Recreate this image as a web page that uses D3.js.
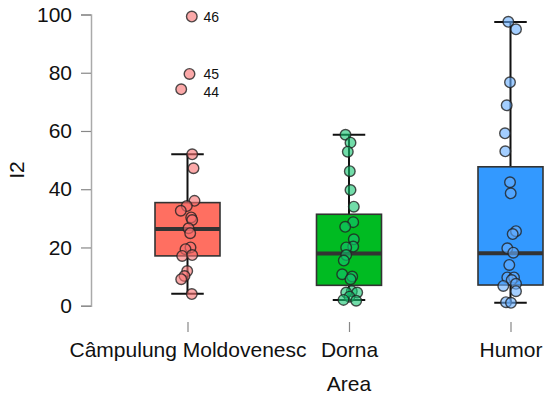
<!DOCTYPE html>
<html>
<head>
<meta charset="utf-8">
<script src="https://cdn.jsdelivr.net/npm/d3@7"></script>
<style>
  body { margin: 0; background: #fff; }
  text { font-family: "Liberation Sans", Arial, sans-serif; }
</style>
</head>
<body>
<svg id="chart" width="550" height="401"></svg>
<script>
const areas = ['Câmpulung Moldovenesc', 'Dorna', 'Humor'];
const yTicks = [0, 20, 40, 60, 80, 100];

// box stats
const whiskerLow = [4.1, 2.0, 1.0];
const q1 = [17.1, 7.0, 7.1];
const median = [26.3, 17.9, 18.0];
const q3 = [35.4, 31.4, 47.7];
const whiskerHigh = [52, 58.7, 97.4];

// observed I2 values per area, with horizontal jitter (px off centre)
const campulungValues = [52, 47.2, 36, 34.2, 32.6, 30.3, 29.4, 26.6, 24.9, 20, 19.4, 17.1, 17.4, 11.9, 10.2, 9.1, 4, 99.3, 79.6, 74.3];
const campulungJitter = [4.7, 6, 7, -0.7, -6.7, 3.7, 4.7, 1, 2.7, 3, -2, -5.3, 4.7, -0.3, -3, -6.3, 4.3, 4.3, 2, -6.3];
const dornaValues = [58.7, 56, 52.9, 46.2, 39.7, 34, 28.7, 27.1, 22.8, 20.3, 20, 17.4, 15.5, 10.8, 10, 9.1, 5, 4.5, 4.5, 3.1, 2, 1.7];
const dornaJitter = [-3.5, 1.5, -1.2, 0.8, 1.5, 4.8, 4.2, -3.8, 4.8, 4.2, -2.8, -2.8, -5.2, -6.8, 3.2, 1.5, 2.8, -2.8, 8.2, 0.5, -5.5, 7.2];
const humorValues = [97.5, 94.9, 76.7, 68.8, 59.2, 53, 42.4, 38.6, 25.6, 24.6, 19.7, 18.2, 14, 9.7, 9.7, 8.8, 7.5, 6.8, 5, 1.2, 1.0];
const humorJitter = [-2.2, 5.5, -0.5, -3.8, -5.5, -5.2, -0.5, 0.2, 5.5, 2.2, -3.2, 2.8, -1.2, -3.2, 3.5, 1.2, 5.5, -7.2, 5.5, -4.5, 0.5];

// labelled outliers (Câmpulung)
const outlierIds = ['46', '45', '44'];
const outlierValues = [99.3, 79.6, 74.3];

const boxColors = ['#FF6F61', '#00BB22', '#3399FF'];
const pointColors = ['#F87070', '#14C470', '#66AEFF'];

const svg = d3.select('#chart');

const x = d3.scalePoint()
    .domain(areas)
    .range([187.5, 510.5]);

const y = d3.scaleLinear()
    .domain([0, 100])
    .range([305.7, 14.5]);

const boxWidth = 65;

// y axis
const yAxis = svg.append('g')
    .attr('transform', 'translate(91,0)')
    .call(d3.axisLeft(y).tickValues(yTicks).tickSize(10).tickPadding(9));
yAxis.select('.domain').attr('stroke', '#aaa').attr('stroke-width', 1.5);
yAxis.selectAll('.tick line').attr('stroke', '#888').attr('stroke-width', 1.2);
yAxis.selectAll('.tick text')
    .attr('font-size', 21)
    .attr('fill', '#111')
    .style('font-family', '"Liberation Sans", Arial, sans-serif');

// x axis (ticks and labels only)
const xAxis = svg.append('g')
    .attr('transform', 'translate(0,322)')
    .call(d3.axisBottom(x).tickSize(10).tickPadding(10).tickSizeOuter(0));
xAxis.select('.domain').remove();
xAxis.selectAll('.tick line').attr('stroke', '#888').attr('stroke-width', 1.2);
xAxis.selectAll('.tick text')
    .attr('font-size', 21)
    .attr('fill', '#111')
    .style('font-family', '"Liberation Sans", Arial, sans-serif');

// axis titles
svg.append('text')
    .attr('transform', 'translate(24,170) rotate(-90)')
    .attr('text-anchor', 'middle')
    .attr('font-size', 21)
    .attr('fill', '#111')
    .text('I2');

svg.append('text')
    .attr('x', 349)
    .attr('y', 391)
    .attr('text-anchor', 'middle')
    .attr('font-size', 21)
    .attr('fill', '#111')
    .text('Area');

// boxes
const boxes = areas.map((a, i) => ({
    area: a, lo: whiskerLow[i], q1: q1[i], med: median[i], q3: q3[i], hi: whiskerHigh[i], color: boxColors[i]
}));

const boxG = svg.append('g');

boxG.selectAll('line.stem')
    .data(boxes)
    .enter()
    .append('line')
    .attr('class', 'stem')
    .attr('x1', d => x(d.area))
    .attr('x2', d => x(d.area))
    .attr('y1', d => y(d.lo))
    .attr('y2', d => y(d.hi))
    .attr('stroke', '#111')
    .attr('stroke-width', 2);

['lo', 'hi'].forEach(k => {
    boxG.selectAll(`line.cap-${k}`)
        .data(boxes)
        .enter()
        .append('line')
        .attr('class', `cap-${k}`)
        .attr('x1', d => x(d.area) - boxWidth / 4)
        .attr('x2', d => x(d.area) + boxWidth / 4)
        .attr('y1', d => y(d[k]))
        .attr('y2', d => y(d[k]))
        .attr('stroke', '#111')
        .attr('stroke-width', 2);
});

boxG.selectAll('rect')
    .data(boxes)
    .enter()
    .append('rect')
    .attr('x', d => x(d.area) - boxWidth / 2)
    .attr('width', boxWidth)
    .attr('y', d => y(d.q3))
    .attr('height', d => y(d.q1) - y(d.q3))
    .attr('fill', d => d.color)
    .attr('stroke', '#333')
    .attr('stroke-width', 1.6);

boxG.selectAll('line.median')
    .data(boxes)
    .enter()
    .append('line')
    .attr('class', 'median')
    .attr('x1', d => x(d.area) - boxWidth / 2)
    .attr('x2', d => x(d.area) + boxWidth / 2)
    .attr('y1', d => y(d.med))
    .attr('y2', d => y(d.med))
    .attr('stroke', '#333')
    .attr('stroke-width', 4);

// jittered points
const groups = [
    [campulungValues, campulungJitter],
    [dornaValues, dornaJitter],
    [humorValues, humorJitter]
];
const points = [];
groups.forEach(([vals, jit], i) => {
    vals.forEach((v, j) => points.push({ area: areas[i], value: v, dx: jit[j], color: pointColors[i] }));
});

svg.append('g')
    .selectAll('circle')
    .data(points)
    .enter()
    .append('circle')
    .attr('cx', d => x(d.area) + d.dx)
    .attr('cy', d => y(d.value))
    .attr('r', 5.3)
    .attr('fill', d => d.color)
    .attr('fill-opacity', 0.6)
    .attr('stroke', '#222')
    .attr('stroke-opacity', 0.8)
    .attr('stroke-width', 1.4);

// outlier labels
svg.append('g')
    .selectAll('text')
    .data(outlierIds.map((id, i) => ({ id, value: outlierValues[i] })))
    .enter()
    .append('text')
    .attr('x', x(areas[0]) + 16)
    .attr('y', (d, i) => y(d.value) + (i === 2 ? 8 : 5))
    .attr('font-size', 14)
    .attr('fill', '#111')
    .text(d => d.id);
</script>
</body>
</html>
